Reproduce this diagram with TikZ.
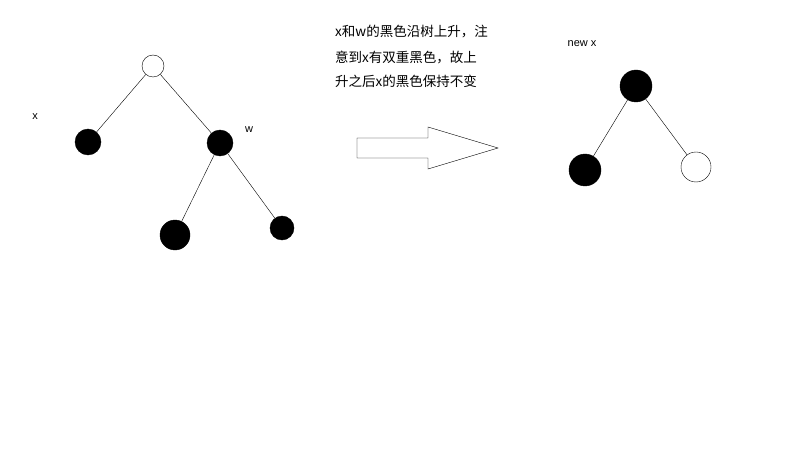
\documentclass[tikz,border=0pt]{standalone}
\usepackage{fontspec}
\setmainfont{Liberation Sans}
\newfontfamily\cjk{Noto Sans CJK SC}
\begin{document}
\begin{tikzpicture}[x=1pt,y=-1pt,
  bn/.style={circle,fill=black,draw=black,inner sep=0pt,minimum size=#1},
  wn/.style={circle,fill=white,draw=black,inner sep=0pt,minimum size=#1},
  lbl/.style={font=\fontsize{11}{13}\selectfont,inner sep=0pt},
  ct/.style={font=\fontsize{13.5}{15}\selectfont\cjk,inner sep=0pt,anchor=west}]
\useasboundingbox (0,0) rectangle (800,449);
\fill[white] (0,0) rectangle (800,449);
\node[wn=22pt] (r) at (153,66) {};
\node[bn=26pt] (x) at (88,142) {};
\node[bn=26pt] (w) at (220,143) {};
\node[bn=30pt] (w1) at (175,235) {};
\node[bn=24pt] (w2) at (282,228) {};
\draw (r)--(x); \draw (r)--(w); \draw (w)--(w1); \draw (w)--(w2);
\node[lbl] (lx) at (35,117) {x};
\node[lbl] (lw) at (249,130) {w};
\draw (357,138)--(428,138)--(428,127)--(498,148)--(428,169)--(428,158)--(357,158)--cycle;
\node[ct] (t1) at (335,32) {x和w的黑色沿树上升，注};
\node[ct] (t2) at (335,57) {意到x有双重黑色，故上};
\node[ct] (t3) at (335,81) {升之后x的黑色保持不变};
\node[lbl] (nx) at (582,44) {new x};
\node[bn=32pt] (a) at (636,86) {};
\node[bn=32pt] (b) at (585,170) {};
\node[wn=30pt] (c) at (696,167) {};
\draw (a)--(b); \draw (a)--(c);
\end{tikzpicture}
\end{document}
